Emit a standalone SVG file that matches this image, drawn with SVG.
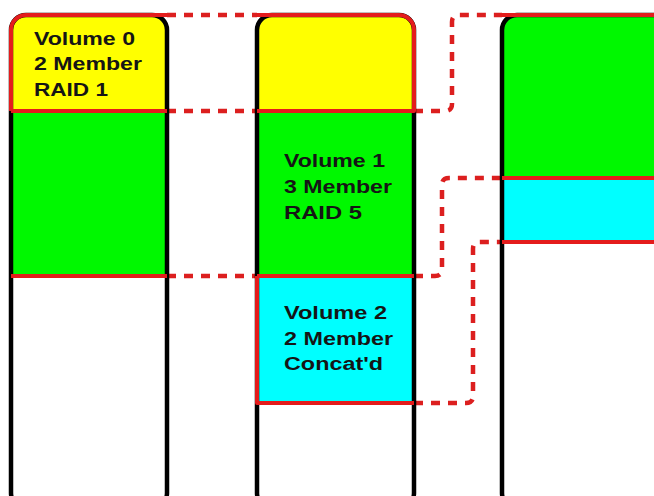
<svg xmlns="http://www.w3.org/2000/svg" width="654" height="496" viewBox="0 0 654 496">
<defs>
<style>
.yel{fill:#ffff00}
.grn{fill:#00f800}
.cyn{fill:#00ffff}
.disk{fill:none;stroke:#000;stroke-width:4.5}
.red{fill:none;stroke:#e41c1c;stroke-width:4;stroke-linejoin:round}
.dash{fill:none;stroke:#dc1f1f;stroke-width:4.5;stroke-dasharray:9 8}
.lbl{font-family:"Liberation Sans",Arial,sans-serif;font-weight:bold;font-size:18px;fill:#151515}
</style>
<clipPath id="c1"><rect x="11" y="15" width="156" height="493" rx="15"/></clipPath>
<clipPath id="c2"><rect x="257" y="15" width="157" height="493" rx="15"/></clipPath>
<clipPath id="c3"><rect x="502" y="15" width="200" height="493" rx="15"/></clipPath>
</defs>
<rect x="0" y="0" width="654" height="496" fill="#fff"/>

<g id="connectors">
<path class="dash" d="M167,15 H257"/>
<path class="dash" d="M167,111 H257"/>
<path class="dash" d="M167,276 H257"/>
<path class="dash" d="M414,111 H445 Q452,111 452,104 V22 Q452,15 459,15 H502"/>
<path class="dash" d="M414,276 H435 Q442,276 442,269 V185 Q442,178 449,178 H502"/>
<path class="dash" d="M414,403 H466 Q473,403 473,396 V249 Q473,242 480,242 H502"/>
</g>

<g id="disk1">
<g clip-path="url(#c1)">
<rect class="yel" x="11" y="15" width="156" height="96"/>
<rect class="grn" x="11" y="111" width="156" height="165"/>
</g>
<rect class="disk" x="11" y="15" width="156" height="493" rx="15"/>
<path class="red" d="M11,111 V30 A15,15 0 0 1 26,15 H167"/>
<path class="red" d="M11,111 H167"/>
<path class="red" d="M11,276 H167"/>
<g id="vol0-label" class="lbl">
<text x="34" y="45" textLength="101" lengthAdjust="spacingAndGlyphs">Volume 0</text>
<text x="34" y="70" textLength="108" lengthAdjust="spacingAndGlyphs">2 Member</text>
<text x="34" y="96" textLength="74" lengthAdjust="spacingAndGlyphs">RAID 1</text>
</g>
</g>

<g id="disk2">
<g clip-path="url(#c2)">
<rect class="yel" x="257" y="15" width="157" height="96"/>
<rect class="grn" x="257" y="111" width="157" height="165"/>
<rect class="cyn" x="257" y="276" width="157" height="127"/>
</g>
<rect class="disk" x="257" y="15" width="157" height="493" rx="15"/>
<path class="red" d="M257,15 H399 A15,15 0 0 1 414,30 V111 H257"/>
<path class="red" d="M257,276 H414"/>
<path class="red" d="M257,276 V403 H414"/>
<g id="vol1-label" class="lbl">
<text x="284" y="167" textLength="101" lengthAdjust="spacingAndGlyphs">Volume 1</text>
<text x="284" y="193" textLength="108" lengthAdjust="spacingAndGlyphs">3 Member</text>
<text x="284" y="219" textLength="78" lengthAdjust="spacingAndGlyphs">RAID 5</text>
</g>
<g id="vol2-label" class="lbl">
<text x="284" y="319" textLength="103" lengthAdjust="spacingAndGlyphs">Volume 2</text>
<text x="284" y="345" textLength="109" lengthAdjust="spacingAndGlyphs">2 Member</text>
<text x="284" y="370" textLength="99" lengthAdjust="spacingAndGlyphs">Concat'd</text>
</g>
</g>

<g id="disk3">
<g clip-path="url(#c3)">
<rect class="grn" x="502" y="15" width="200" height="163"/>
<rect class="cyn" x="502" y="178" width="200" height="64"/>
</g>
<rect class="disk" x="502" y="15" width="200" height="493" rx="15"/>
<path class="red" d="M500,15 H656"/>
<path class="red" d="M502,178 H656"/>
<path class="red" d="M502,242 H656"/>
</g>
</svg>
